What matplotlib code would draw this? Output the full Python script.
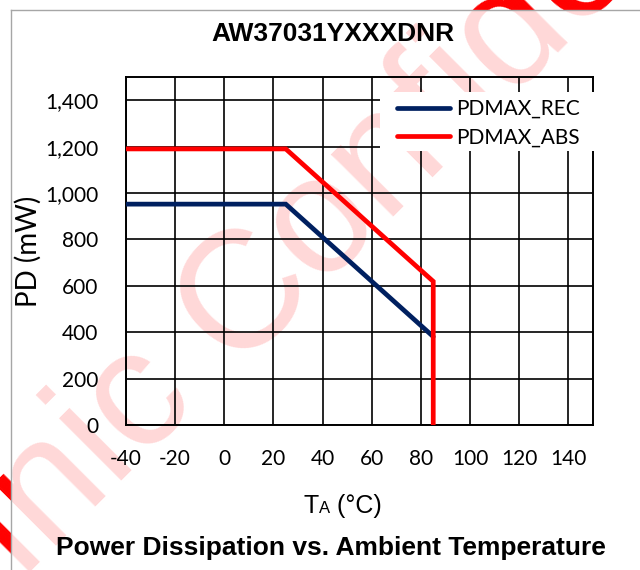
import matplotlib
matplotlib.use("Agg")
import matplotlib.pyplot as plt
from matplotlib.ticker import FuncFormatter
from matplotlib.offsetbox import TextArea, HPacker, AnchoredOffsetbox
from matplotlib.lines import Line2D
from matplotlib.patches import Rectangle

plt.rcParams["axes.unicode_minus"] = False

# ---- data ----
temp_rec = [-40, 25, 85]
pd_rec = [952, 952, 381]
temp_abs = [-40, 25, 85, 85]
pd_abs = [1190, 1190, 619, 0]
series_names = ["PDMAX_REC", "PDMAX_ABS"]
x_ticks = [-40, -20, 0, 20, 40, 60, 80, 100, 120, 140]
y_ticks = [0, 200, 400, 600, 800, 1000, 1200, 1400]
title_text = "AW37031YXXXDNR"
caption_text = "Power Dissipation vs. Ambient Temperature"
ylabel_text = "PD (mW)"

W, H = 640, 570
fig = plt.figure(figsize=(6.4, 5.7), dpi=100)

def fx(px):
    return px / W

def fy(py):
    return 1 - py / H

# watermark (bright red underneath, paled by a translucent white sheet inside the frame)
wm_kw = dict(fontsize=120, family="Liberation Sans", color="#FF0000",
             rotation=45, rotation_mode="anchor", va="baseline", zorder=0)
fig.text(fx(233), fy(369), "Confidential", ha="left", **wm_kw)
fig.text(fx(200), fy(402), "Awinic", ha="right", **wm_kw)
fig.patches.append(Rectangle((fx(11), 0), 1 - fx(11), fy(10), transform=fig.transFigure,
                             facecolor="white", alpha=0.85, edgecolor="none", zorder=0.5))
# frame
fig.lines.append(Line2D([fx(11), fx(11)], [0, fy(10)], transform=fig.transFigure,
                        color="#A6A6A6", lw=1.0, zorder=1))
fig.lines.append(Line2D([fx(11), 1], [fy(10), fy(10)], transform=fig.transFigure,
                        color="#A6A6A6", lw=1.0, zorder=1))

ax_l, ax_r, ax_t, ax_b = 126, 593, 77, 425
ax = fig.add_axes([fx(ax_l), fy(ax_b), fx(ax_r) - fx(ax_l), fy(ax_t) - fy(ax_b)])
ax.set_facecolor("none")
ax.set_zorder(2)

ax.plot(temp_rec, pd_rec, color="#002060", lw=3.4, label=series_names[0],
        solid_capstyle="round", solid_joinstyle="miter", zorder=3)
ax.plot(temp_abs, pd_abs, color="#FF0000", lw=3.4, label=series_names[1],
        solid_capstyle="butt", solid_joinstyle="miter", zorder=3)

ax.set_xlim(-40, 150)
ax.set_ylim(0, 1500)
ax.set_xticks(x_ticks)
ax.set_yticks(y_ticks)
ax.yaxis.set_major_formatter(FuncFormatter(lambda v, p: f"{v:,.0f}"))
ax.grid(True, color="black", lw=1.2)
ax.set_axisbelow(True)
for s in ax.spines.values():
    s.set_color("black")
    s.set_linewidth(1.4)
ax.tick_params(length=0, labelsize=15, colors="black")
ax.tick_params(axis="y", pad=20)
ax.tick_params(axis="x", pad=17)
for lbl in ax.get_xticklabels() + ax.get_yticklabels():
    lbl.set_family("Lato")

ax.set_ylabel(ylabel_text, fontsize=20, family="Lato", labelpad=2)

# white patch behind the legend (interrupts grid and spine like the reference)
axw, axh = ax_r - ax_l, ax_b - ax_t
ax.add_patch(Rectangle(((380 - ax_l) / axw, (ax_b - 151) / axh),
                       (596 - 380) / axw, (151 - 92) / axh,
                       transform=ax.transAxes, facecolor="white", edgecolor="none",
                       zorder=2.7, clip_on=False))

leg = ax.legend(loc="upper left",
                bbox_to_anchor=((397 - ax_l) / axw, (ax_b - 99) / axh),
                frameon=False, prop={"family": "Lato", "size": 15},
                handlelength=2.55, handletextpad=0.3, labelspacing=0.42,
                borderpad=0.0, borderaxespad=0.0)
leg.set_zorder(4)
for h in leg.get_lines():
    h.set_solid_capstyle("round")
    h.set_linewidth(3.4)

fig.text(fx(333), fy(34), title_text, ha="center", va="center", fontsize=19,
         fontweight="bold", family="Liberation Sans")
fig.text(fx(331), fy(548), caption_text, ha="center", va="center", fontsize=19,
         fontweight="bold", family="Liberation Sans")

xl_family = ["Liberation Sans Narrow", "Liberation Sans"]
ta = [TextArea("T", textprops=dict(fontsize=18, family=xl_family)),
      TextArea("A", textprops=dict(fontsize=12, family=xl_family)),
      TextArea(" (°C)", textprops=dict(fontsize=18, family=xl_family))]
box = HPacker(children=ta, align="baseline", pad=0, sep=0)
anch = AnchoredOffsetbox(loc="center", child=box, frameon=False, pad=0,
                         bbox_to_anchor=(fx(343), fy(506)),
                         bbox_transform=fig.transFigure, borderpad=0)
fig.add_artist(anch)

fig.savefig("out.png", dpi=100)
